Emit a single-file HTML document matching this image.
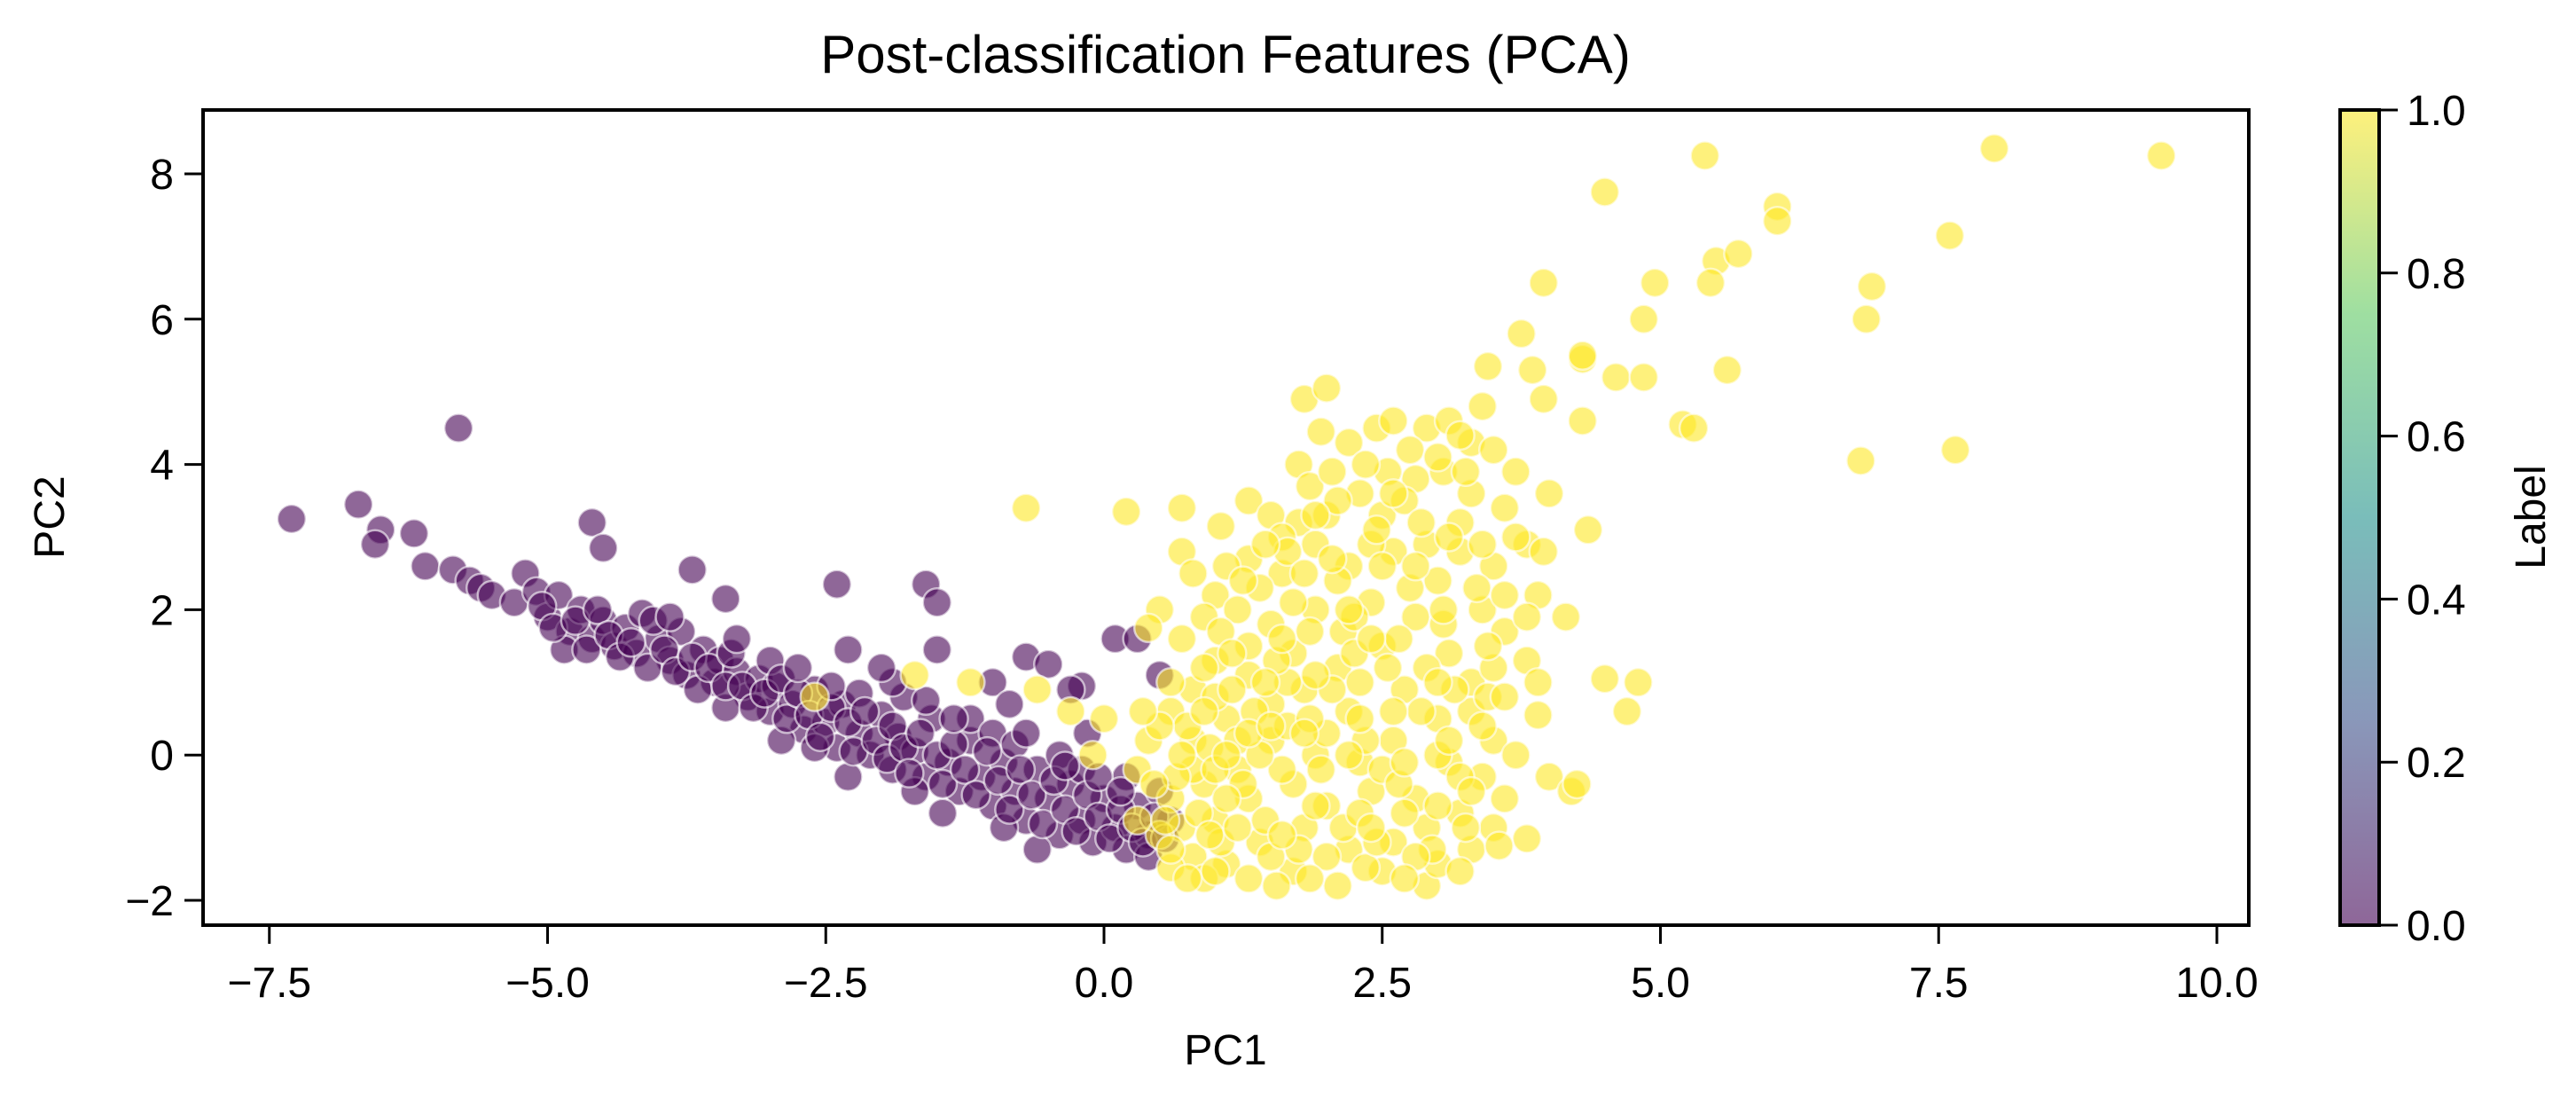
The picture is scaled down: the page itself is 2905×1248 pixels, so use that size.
<!DOCTYPE html>
<html><head><meta charset="utf-8"><style>
html,body{margin:0;padding:0;background:#fff;}
svg{display:block;font-family:"Liberation Sans","DejaVu Sans",sans-serif;}
</style></head><body>
<svg id="chart" width="2905" height="1248" viewBox="0 0 2905 1248" xmlns="http://www.w3.org/2000/svg">
<defs>
<linearGradient id="vir" x1="0" y1="1" x2="0" y2="0">
<stop offset="0" stop-color="#440154"/><stop offset="0.25" stop-color="#3b528b"/><stop offset="0.5" stop-color="#21918c"/><stop offset="0.75" stop-color="#5ec962"/><stop offset="1" stop-color="#fde725"/>
</linearGradient>
<clipPath id="plotclip"><rect x="229" y="124" width="2307" height="919"/></clipPath>
</defs>
<text x="1382" y="82" font-size="60" text-anchor="middle" fill="#000">Post-classification Features (PCA)</text>
<g id="points" clip-path="url(#plotclip)"></g>
<rect x="229" y="124" width="2307" height="919" fill="none" stroke="#000" stroke-width="4"/>
<g id="xticks"></g>
<g id="yticks"></g>
<text x="1382" y="1200" font-size="48" text-anchor="middle">PC1</text>
<text transform="translate(72,583) rotate(-90)" font-size="48" text-anchor="middle">PC2</text>
<rect x="2639" y="124" width="44" height="919" fill="url(#vir)" fill-opacity="0.6" stroke="#000" stroke-width="4"/>
<g id="cticks"></g>
<text transform="translate(2870,583) rotate(-90)" font-size="48" text-anchor="middle">Label</text>
</svg>
<script>
const xTicks=[-7.5,-5.0,-2.5,0.0,2.5,5.0,7.5,10.0];
const yTicks=[-2,0,2,4,6,8];
const cTicks=[0.0,0.2,0.4,0.6,0.8,1.0];
const purplePts=[[-7.3,3.25],[-6.7,3.45],[-6.5,3.1],[-6.55,2.9],[-6.2,3.05],[-6.1,2.6],[-5.8,4.5],[-5.85,2.55],[-5.7,2.4],[-5.6,2.3],[-5.2,2.5],[-4.6,3.2],[-4.5,2.85],[-3.7,2.55],[-3.4,2.15],[-2.4,2.35],[-1.6,2.35],[-1.5,2.1],[-2.3,1.45],[-1.5,1.45],[-0.7,1.35],[-0.5,1.25],[0.1,1.6],[0.3,1.6],[-0.2,0.95],[0.5,1.1],
[-5.5,2.2],[-5.3,2.1],[-5.1,2.25],[-5.0,1.9],[-4.9,2.2],[-4.8,1.7],[-4.7,2.0],[-4.6,1.6],[-4.5,1.85],[-4.4,1.5],[-4.3,1.75],[-4.2,1.4],[-4.15,1.95],[-4.0,1.6],[-3.9,1.3],[-3.8,1.7],[-3.75,1.1],[-3.6,1.45],[-3.5,1.0],[-3.45,1.3],[-3.3,1.15],[-3.2,0.8],[-3.1,1.05],[-3.0,0.6],[-2.95,0.95],[-2.8,0.7],[-2.7,0.35],[-2.6,0.9],[-2.5,0.45],[-2.4,0.1],[-2.35,0.7],[-2.2,0.3],[-2.1,0.0],[-2.0,0.55],[-1.9,-0.2],[-1.85,0.25],[-1.7,0.05],[-1.6,-0.3],[-1.55,0.5],[-1.4,-0.1],[-1.3,-0.5],[-1.2,0.2],[-1.1,-0.3],[-1.0,-0.7],[-0.9,-0.1],[-0.8,-0.5],[-0.7,-0.9],[-0.6,-0.2],[-0.5,-0.6],[-0.4,-1.1],[-0.3,-0.4],[-0.2,-0.9],[-0.1,-1.2],[0.0,-0.6],[0.1,-1.0],[0.2,-1.3],[0.3,-0.7],[0.4,-1.1],[0.5,-0.5],[0.6,-0.9],[-4.85,1.45],[-4.1,1.2],[-3.65,0.9],[-3.0,1.3],[-2.6,0.1],[-2.2,0.85],[-1.8,0.8],[-1.7,-0.5],[-1.2,0.5],[-1.0,0.3],[-0.8,0.15],[-0.4,0.0],[-0.2,-0.2],[-2.9,0.2],[-3.4,0.65],[-1.45,-0.8],[-0.6,-1.3],[-0.9,-1.0],[-2.3,-0.3],[0.2,-0.3],[0.4,-1.4],[-0.15,0.3],[-1.9,1.0],[-2.0,1.2],[-1.0,1.0],[-0.85,0.7],[-0.3,0.9],
[-5.05,2.05],[-4.95,1.75],[-4.75,1.85],[-4.65,1.45],[-4.55,2.0],[-4.45,1.65],[-4.35,1.35],[-4.25,1.55],[-4.05,1.85],[-3.95,1.45],[-3.85,1.15],[-3.7,1.35],[-3.55,1.2],[-3.4,0.95],[-3.35,1.4],[-3.25,0.95],[-3.15,0.65],[-3.05,0.85],[-2.9,1.05],[-2.85,0.5],[-2.75,0.85],[-2.65,0.55],[-2.55,0.25],[-2.45,0.65],[-2.3,0.45],[-2.25,0.05],[-2.15,0.6],[-2.05,0.2],[-1.95,-0.05],[-1.9,0.4],[-1.8,0.1],[-1.75,-0.25],[-1.65,0.3],[-1.5,0.0],[-1.45,-0.4],[-1.35,0.15],[-1.25,-0.2],[-1.15,-0.55],[-1.05,0.05],[-0.95,-0.35],[-0.85,-0.75],[-0.75,-0.2],[-0.65,-0.55],[-0.55,-0.95],[-0.45,-0.35],[-0.35,-0.75],[-0.25,-1.05],[-0.15,-0.55],[-0.05,-0.85],[0.05,-1.15],[0.15,-0.75],[0.25,-1.0],[0.35,-1.2],[0.45,-0.85],[0.55,-1.15],[-3.9,1.9],[-3.3,1.6],[-2.75,1.2],[-2.45,0.95],[-1.6,0.75],[-1.35,0.5],[-0.7,0.3],[-0.35,-0.15],[-0.05,-0.3],[0.15,-0.5]];
const yellowPts=[[5.4,8.25],[8.0,8.35],[9.5,8.25],[4.5,7.75],[6.05,7.55],[6.05,7.35],[7.6,7.15],[5.5,6.8],[5.7,6.9],[3.95,6.5],[4.95,6.5],[6.9,6.45],[5.45,6.5],[4.85,6.0],[6.85,6.0],[3.75,5.8],[4.3,5.45],[4.3,5.5],[3.45,5.35],[4.6,5.2],[4.85,5.2],[5.6,5.3],[3.85,5.3],[4.3,4.6],[5.2,4.55],[5.3,4.5],[6.8,4.05],[7.65,4.2],[3.4,4.8],[3.95,4.9],[1.8,4.9],[2.0,5.05],[1.95,4.45],[4.0,3.6],[4.35,3.1],[3.8,2.9],[3.95,2.8],[4.15,1.9],[4.5,1.05],[4.8,1.0],[4.7,0.6],[3.9,0.55],[4.0,-0.3],[4.2,-0.5],[4.25,-0.4],[3.8,-1.15],[-0.7,3.4],[0.2,3.35],[0.7,3.4],[0.7,2.8],[0.8,2.5],[0.5,2.0],[0.4,1.75],[0.7,1.6],[1.0,2.2],[1.05,3.15],[1.3,3.5],[1.5,3.3],[1.75,3.2],[1.75,4.0],[1.85,3.7],[2.05,3.9],[2.2,4.3],[2.45,4.5],[2.6,4.6],[2.9,4.5],[3.1,4.6],[3.3,4.3],[3.5,4.2],[3.7,3.9],[2.3,3.6],[2.5,3.3],[2.8,3.8],[3.2,3.2],[3.6,3.4],[3.5,2.6],[3.0,2.4],[3.4,2.0],[3.6,1.7],[3.1,1.4],[3.3,1.0],[2.6,2.8],[2.2,2.6],[1.9,2.9],[1.6,2.5],[1.3,2.7],[1.2,2.0],[1.5,1.8],[1.9,2.0],[2.4,2.1],[2.8,1.9],[2.5,1.5],[2.1,1.2],[1.7,1.4],[1.3,1.1],[1.0,1.3],[0.8,0.9],[0.6,0.6],[0.4,0.2],[0.8,0.2],[1.1,0.5],[1.5,0.7],[1.8,0.9],[2.2,0.6],[2.7,0.9],[3.0,0.5],[3.5,0.2],[3.4,-0.3],[3.1,-0.1],[2.6,0.2],[2.3,-0.1],[1.9,0.0],[1.5,0.2],[1.2,-0.2],[0.9,-0.4],[0.6,-0.6],[0.7,-1.0],[1.0,-0.9],[1.3,-0.6],[1.7,-0.4],[2.0,-0.7],[2.4,-0.5],[2.8,-0.6],[3.2,-0.8],[3.5,-1.0],[3.6,-0.6],[3.3,-1.3],[2.9,-1.0],[2.6,-1.2],[2.2,-1.3],[1.8,-1.0],[1.4,-1.2],[1.1,-1.5],[0.8,-1.4],[0.5,-1.1],[0.9,-1.7],[1.3,-1.7],[1.7,-1.6],[2.1,-1.8],[2.5,-1.6],[2.9,-1.8],[3.0,-1.5],[2.35,-1.55],[1.55,-1.8],[0.6,-1.55],[0.3,-0.2],[0.0,0.5],[-0.3,0.6],[-0.6,0.9],[-1.2,1.0],[-1.7,1.1],[-2.6,0.8],[-0.1,0.0],[0.3,-0.9],[2.0,3.3],[2.7,3.5],[3.05,3.9],[2.4,2.9],[1.6,3.0],[1.1,2.6],[0.9,1.9],[3.8,1.3],[3.9,2.2],[3.2,2.8],[2.15,1.7],[1.4,2.3],[2.9,1.2],[1.2,0.2],[2.5,-0.2],[3.0,0.0],[2.0,0.3],[1.6,-0.2],[0.8,-0.2],[1.0,0.8],[2.3,1.0],[1.65,1.0],[3.3,0.6],[3.7,0.0],[3.55,-1.25],[3.2,-0.3],
[0.65,-0.3],[0.75,0.4],[0.85,-0.8],[0.95,0.1],[1.05,-1.2],[1.15,0.9],[1.25,-0.4],[1.35,0.6],[1.45,-0.9],[1.55,1.3],[1.65,0.4],[1.75,-1.3],[1.85,1.7],[1.95,-0.2],[2.05,0.9],[2.15,-1.0],[2.25,1.9],[2.35,0.2],[2.45,-1.2],[2.55,1.2],[2.65,-0.4],[2.75,2.3],[2.85,0.6],[2.95,-1.3],[3.05,1.8],[3.15,0.9],[3.25,-1.0],[3.35,2.3],[3.45,0.8],[0.7,0.0],[0.9,0.6],[1.1,-0.6],[1.3,1.5],[1.5,-1.4],[1.7,2.1],[1.9,-0.7],[2.1,2.4],[2.3,-0.8],[2.5,2.6],[2.7,-0.1],[2.9,2.9],[3.1,0.2],[3.3,3.6],[3.5,1.2],[1.05,1.7],[1.25,2.4],[1.45,1.0],[1.65,2.8],[1.85,0.5],[2.05,2.7],[2.25,1.4],[2.45,3.1],[2.65,1.6],[2.85,3.2],[3.05,2.0],[3.25,3.9],[3.45,1.5],[2.55,3.9],[2.35,4.0],[2.75,4.2],[3.0,4.1],[3.2,4.4],[2.1,3.5],[1.9,3.3],[1.45,2.9],[1.15,1.4],[0.95,-1.1],[1.2,-1.0],[1.6,-1.1],[2.0,-1.4],[2.4,-1.0],[2.8,-1.4],[3.2,-1.6],[1.0,-1.6],[0.75,-1.7],[1.85,-1.7],[2.7,-1.7],[0.55,-0.9],[0.6,-1.3],[1.4,0.0],[1.8,0.3],[2.2,0.0],[2.6,0.6],[3.0,1.0],[3.4,0.4],[3.6,2.2],[3.7,3.0],[3.4,2.9],[0.9,1.2],[0.6,1.0],[0.5,0.4],[0.45,-0.4],[0.35,0.6],[2.2,2.0],[2.4,1.6],[1.6,1.6],[2.8,2.6],[3.1,3.0],[2.6,3.6],[1.8,2.5],[1.3,0.3],[1.0,-0.2],[3.3,-0.5],[3.0,-0.7],[2.7,-0.8],[2.3,0.5],[1.9,1.1],[1.5,0.4],[1.1,0.0],[3.8,1.9],[3.6,0.8],[3.9,1.0]];

const NS='http://www.w3.org/2000/svg';
const X0=1245, XS=125.5, Y0=851.2, YS=81.9;
function sx(v){return X0+v*XS;}
function sy(v){return Y0-v*YS;}
function cy(v){return 1043-v*919;}
function mk(tag,attrs,parent){const e=document.createElementNS(NS,tag);for(const k in attrs)e.setAttribute(k,attrs[k]);parent.appendChild(e);return e;}
function fmt(v){return (v<0?'\u2212':'')+Math.abs(v);}
const pg=document.getElementById('points');
purplePts.forEach(p=>{
  const c=mk('circle',{cx:sx(p[0]),cy:sy(p[1]),r:16,fill:'#440154','fill-opacity':0.6,stroke:'#ffffff','stroke-opacity':0.6,'stroke-width':2.5},pg);
  
  
});
yellowPts.forEach(p=>{
  const c=mk('circle',{cx:sx(p[0]),cy:sy(p[1]),r:16,fill:'#fde725','fill-opacity':0.6,stroke:'#ffffff','stroke-opacity':0.6,'stroke-width':2.5},pg);
  
  
});
const xg=document.getElementById('xticks');
xTicks.forEach(v=>{
  const x=sx(v);
  const l=mk('line',{x1:x,y1:1043,x2:x,y2:1064,stroke:'#000','stroke-width':3},xg);
  
  
  const t=mk('text',{x:x,y:1124,'font-size':48,'text-anchor':'middle'},xg);
  t.textContent=(v<0?'\u2212':'')+Math.abs(v).toFixed(1);
  
  
});
const yg=document.getElementById('yticks');
yTicks.forEach(v=>{
  const y=sy(v);
  const l=mk('line',{x1:208,y1:y,x2:229,y2:y,stroke:'#000','stroke-width':3},yg);
  
  
  const t=mk('text',{x:196,y:y+17,'font-size':48,'text-anchor':'end'},yg);
  t.textContent=fmt(v);
  
  
});
const cg=document.getElementById('cticks');
cTicks.forEach(v=>{
  const y=cy(v);
  const l=mk('line',{x1:2683,y1:y,x2:2704,y2:y,stroke:'#000','stroke-width':3},cg);
  
  
  const t=mk('text',{x:2714,y:y+17,'font-size':48},cg);
  t.textContent=v.toFixed(1);
  
  
});
</script>
</body></html>
